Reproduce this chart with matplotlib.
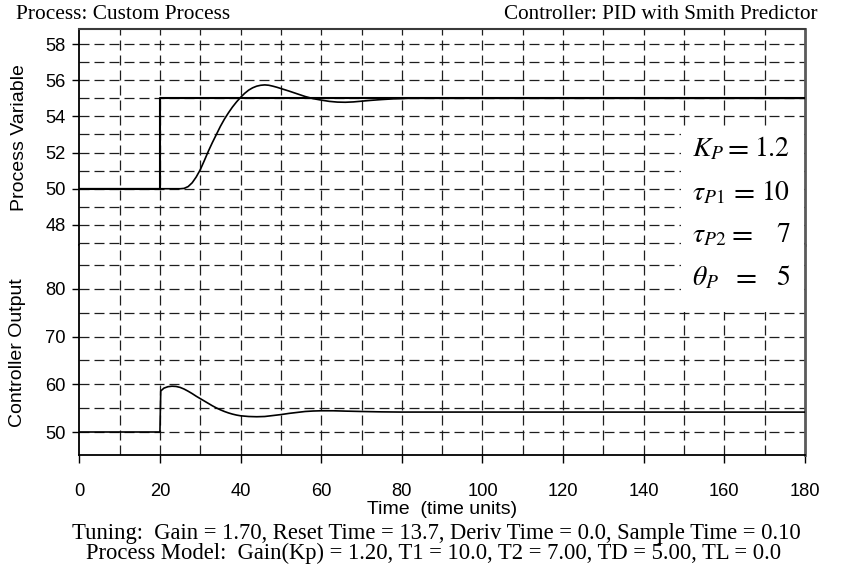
import matplotlib
matplotlib.use("Agg")
import matplotlib.pyplot as plt
from matplotlib.patches import Rectangle

plt.rcParams['mathtext.fontset'] = 'stix'

SANS = 'Liberation Sans'
SERIF = 'Liberation Serif'

# ---- data -------------------------------------------------------------
setpoint_t = [0, 20, 20, 180]
setpoint_v = [50, 50, 55, 55]

pv_t = [0, 20, 25, 26, 27, 28, 29, 30, 31, 32, 33, 34, 35, 36, 37, 38, 39, 40,
        41, 42, 43, 44, 45, 46, 47, 48, 49, 50, 52, 54, 56, 58, 60, 62, 64, 66,
        68, 70, 72, 75, 78, 82, 180]
pv_v = [50, 50, 50.0, 50.02, 50.12, 50.33, 50.65, 51.05, 51.55, 52.07, 52.55,
        53.0, 53.45, 53.85, 54.2, 54.52, 54.8, 55.05, 55.27, 55.45, 55.58,
        55.67, 55.72, 55.74, 55.72, 55.67, 55.61, 55.54, 55.4, 55.25, 55.1,
        54.98, 54.9, 54.83, 54.79, 54.78, 54.8, 54.84, 54.88, 54.93, 54.97,
        55.0, 55.0]

co_t = [0, 20, 20.2, 21, 22, 23, 24, 25, 26, 27, 28, 29, 30, 31, 32, 33, 34,
        35, 36, 37, 38, 39, 40, 42, 44, 46, 48, 50, 52, 54, 56, 58, 60, 63, 66,
        70, 75, 80, 180]
co_v = [50, 50, 58.6, 59.2, 59.5, 59.6, 59.55, 59.35, 59.0, 58.55, 58.05, 57.5,
        57.0, 56.5, 56.0, 55.5, 55.05, 54.65, 54.3, 54.0, 53.75, 53.55, 53.4,
        53.25, 53.2, 53.25, 53.45, 53.65, 53.9, 54.1, 54.3, 54.4, 54.45, 54.45,
        54.38, 54.3, 54.22, 54.18, 54.17]

x_ticks = [0, 20, 40, 60, 80, 100, 120, 140, 160, 180]
pv_ticks = [48, 50, 52, 54, 56, 58]
pv_grid = list(range(47, 59))
co_ticks = [50, 60, 70, 80]
co_grid = [50, 55, 60, 65, 70, 75, 80, 85]
time_grid = list(range(10, 180, 10))

params_sym = [r'$K_P$', r'$\tau_{\mathit{P1}}$', r'$\tau_{\mathit{P2}}$', r'$\theta_P$']
params_val = ['1.2', '10', '7', '5']

# ---- figure -----------------------------------------------------------
W, H = 843, 571
fig = plt.figure(figsize=(W / 100, H / 100), dpi=100)


def fx(px):
    return px / W


def fy(py):
    return 1 - py / H


left, right = 79.3, 805.0
ax1 = fig.add_axes([fx(left), fy(245), fx(right - left), (245 - 29) / H])
ax2 = fig.add_axes([fx(left), fy(455), fx(right - left), (455 - 245) / H])

grid_kw = dict(color='#1e1e1e', lw=0.9, linestyle=(0, (8, 4)), zorder=1)
TICK_FS = 13.2

for ax in (ax1, ax2):
    ax.set_xlim(0, 180)
    for t in time_grid:
        ax.axvline(t, **grid_kw)
    ax.spines['left'].set_linewidth(1.3)
    ax.spines['left'].set_color('black')
    ax.spines['right'].set_linewidth(2.0)
    ax.spines['right'].set_color('#5a5a5a')
    ax.tick_params(axis='y', direction='out', length=5, width=1.0,
                   pad=5, colors='black')

# process variable panel
ax1.set_ylim(46.89, 58.83)
for v in pv_grid:
    ax1.axhline(v, **grid_kw)
ax1.set_yticks(pv_ticks)
ax1.set_yticklabels([str(v) for v in pv_ticks], fontfamily=SANS, fontsize=TICK_FS)
ax1.set_xticks([])
ax1.spines['bottom'].set_visible(False)
ax1.spines['top'].set_linewidth(1.5)
ax1.spines['top'].set_color('#3a3a3a')
ax1.plot(setpoint_t, setpoint_v, color='black', lw=1.5, zorder=3)
ax1.plot(pv_t, pv_v, color='black', lw=1.2, zorder=3)

# controller output panel
ax2.set_ylim(45.18, 89.2)
for v in co_grid:
    ax2.axhline(v, **grid_kw)
ax2.set_yticks(co_ticks)
ax2.set_yticklabels([str(v) for v in co_ticks], fontfamily=SANS, fontsize=TICK_FS)
ax2.spines['top'].set_visible(False)
ax2.spines['bottom'].set_linewidth(1.3)
ax2.spines['bottom'].set_color('black')
ax2.set_xticks(x_ticks)
ax2.set_xticklabels([str(v) for v in x_ticks], fontfamily=SANS, fontsize=TICK_FS)
ax2.tick_params(axis='x', direction='out', length=6, width=1.0, pad=14)
ax2.plot(co_t, co_v, color='black', lw=1.2, zorder=3)

# axis titles
fig.text(fx(20), fy(138), 'Process Variable', rotation=90, ha='center',
         va='center', fontfamily=SANS, fontsize=14)
fig.text(fx(18), fy(353), 'Controller Output', rotation=90, ha='center',
         va='center', fontfamily=SANS, fontsize=14)
fig.text(fx(442), fy(510), 'Time  (time units)', ha='center', va='center',
         fontfamily=SANS, fontsize=14)

# header lines
fig.text(fx(16), fy(19.3), 'Process: Custom Process', ha='left',
         va='baseline', fontfamily=SERIF, fontsize=15.4)
fig.text(fx(817), fy(19.3), 'Controller: PID with Smith Predictor',
         ha='right', va='baseline', fontfamily=SERIF, fontsize=15.2)

# footer lines
fig.text(fx(436), fy(538.5),
         'Tuning:  Gain = 1.70, Reset Time = 13.7, Deriv Time = 0.0, Sample Time = 0.10',
         ha='center', va='baseline', fontfamily=SERIF, fontsize=16.3)
fig.text(fx(434), fy(559.3),
         'Process Model:  Gain(Kp) = 1.20, T1 = 10.0, T2 = 7.00, TD = 5.00, TL = 0.0',
         ha='center', va='baseline', fontfamily=SERIF, fontsize=16.3)

# model parameter panel
fig.patches.append(Rectangle((fx(681), fy(312)), fx(804 - 681), (312 - 127) / H,
                             transform=fig.transFigure, facecolor='white',
                             edgecolor='none', zorder=5))
baselines = [156, 200, 242, 285]
eq_centers = [736, 742, 740, 744]
for sym, val, yb, xe in zip(params_sym, params_val, baselines, eq_centers):
    fig.text(fx(692), fy(yb), sym, ha='left', va='baseline', fontsize=20,
             zorder=6)
    fig.text(fx(xe), fy(yb), r'$=$', ha='center', va='baseline', fontsize=22,
             zorder=6)
    fig.text(fx(790), fy(yb), r'$\mathrm{' + val + '}$', ha='right',
             va='baseline', fontsize=20, zorder=6)

fig.savefig('out.png', dpi=100)
